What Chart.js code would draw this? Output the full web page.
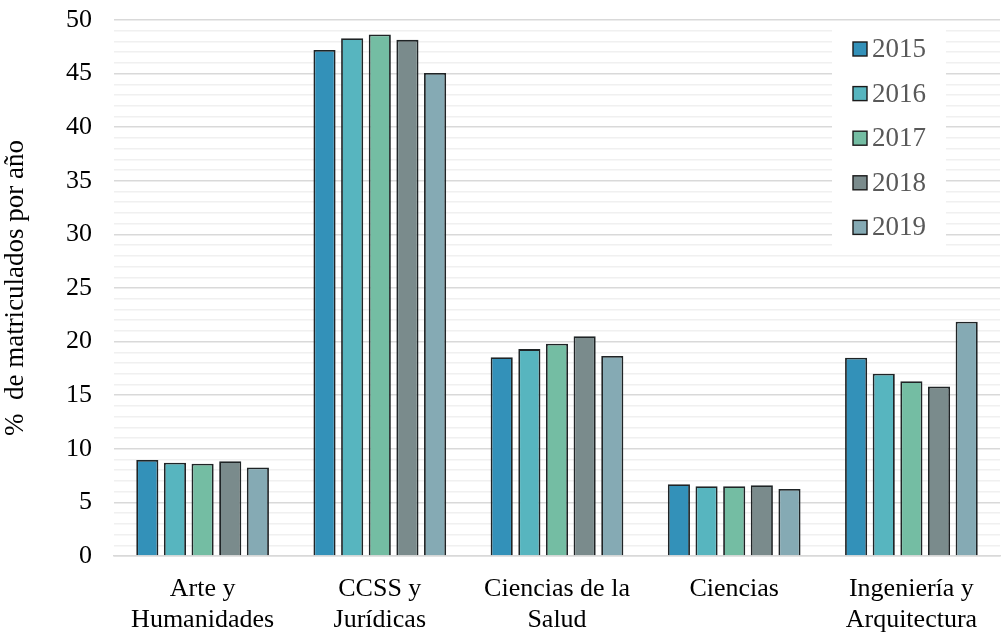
<!DOCTYPE html>
<html>
<head>
<meta charset="utf-8">
<script src="https://cdn.jsdelivr.net/npm/chart.js@4/dist/chart.umd.min.js"></script>
<style>
  html, body { margin: 0; padding: 0; background: #fff; }
  #wrap { width: 1006px; height: 634px; }
</style>
</head>
<body>
<div id="wrap"><canvas id="chart" width="1006" height="634"></canvas></div>
<script>
// categorías (eje X) y años
const categories = [['Arte y', 'Humanidades'], ['CCSS y', 'Jurídicas'], ['Ciencias de la', 'Salud'], ['Ciencias'], ['Ingeniería y', 'Arquitectura']];
const years = ['2015', '2016', '2017', '2018', '2019'];

// % de matriculados por año, una lista por año
const values2015 = [8.95, 47.2, 18.55, 6.7, 18.5];
const values2016 = [8.7, 48.3, 19.3, 6.5, 17.0];
const values2017 = [8.6, 48.65, 19.8, 6.5, 16.3];
const values2018 = [8.85, 48.15, 20.5, 6.6, 15.8];
const values2019 = [8.25, 45.05, 18.65, 6.25, 21.85];

const yTicks = [0, 5, 10, 15, 20, 25, 30, 35, 40, 45, 50];

const colors = ['#3391b9', '#57b5bf', '#74bda3', '#7a8b8c', '#85aab4'];
const seriesValues = [values2015, values2016, values2017, values2018, values2019];

const FONT = "'Liberation Serif', 'Times New Roman', serif";

// leyenda dibujada dentro del área del gráfico, con fondo blanco
const insideLegend = {
    id: 'insideLegend',
    afterDraw(chart) {
        const ctx = chart.ctx;
        const x0 = 832, y0 = 30, w = 114, h = 217;
        ctx.save();
        ctx.fillStyle = '#ffffff';
        ctx.fillRect(x0, y0, w, h);
        ctx.font = '27px ' + FONT;
        ctx.textBaseline = 'middle';
        chart.data.datasets.forEach((ds, i) => {
            const cy = 49 + i * 44.6;
            ctx.fillStyle = ds.backgroundColor;
            ctx.fillRect(853, cy - 7, 14, 14);
            ctx.strokeStyle = '#1a1a1a';
            ctx.lineWidth = 1.4;
            ctx.strokeRect(853, cy - 7, 14, 14);
            ctx.fillStyle = '#595959';
            ctx.fillText(ds.label, 872, cy + 1);
        });
        ctx.restore();
    }
};

new Chart(document.getElementById('chart'), {
    type: 'bar',
    data: {
        labels: categories,
        datasets: years.map((y, i) => ({
            label: y,
            data: seriesValues[i],
            backgroundColor: colors[i],
            borderColor: '#1f2426',
            borderWidth: 1.8,
            categoryPercentage: 0.78,
            barPercentage: 0.8
        }))
    },
    options: {
        responsive: false,
        animation: false,
        layout: { padding: { top: 20, right: 6, left: 0, bottom: 0 } },
        plugins: {
            legend: { display: false },
            tooltip: { enabled: false }
        },
        scales: {
            x: {
                grid: { display: false },
                border: { color: '#d9d9d9', width: 1.5 },
                ticks: {
                    color: '#000',
                    font: { family: FONT, size: 26, lineHeight: 1.22 },
                    maxRotation: 0,
                    padding: 9
                },
                afterFit(scale) { scale.height = 78; scale.paddingLeft = 0; scale.paddingRight = 0; }
            },
            y: {
                min: 0,
                max: 50,
                border: { display: false },
                grid: {
                    color: (c) => (c.tick && c.tick.value % 5 === 0) ? '#d9d9d9' : '#f0f0f0',
                    lineWidth: 1.5,
                    drawTicks: false
                },
                ticks: {
                    stepSize: 1,
                    autoSkip: false,
                    color: '#000',
                    padding: 22,
                    font: { family: FONT, size: 26 },
                    callback: (v) => yTicks.includes(v) ? String(v) : ''
                },
                title: {
                    display: true,
                    text: '%  de matriculados por año',
                    color: '#000',
                    font: { family: FONT, size: 27 },
                    padding: { top: 0, bottom: 4 }
                },
                afterFit(scale) { scale.width = 114; scale.paddingTop = 0; scale.paddingBottom = 0; }
            }
        }
    },
    plugins: [insideLegend]
});
</script>
</body>
</html>
